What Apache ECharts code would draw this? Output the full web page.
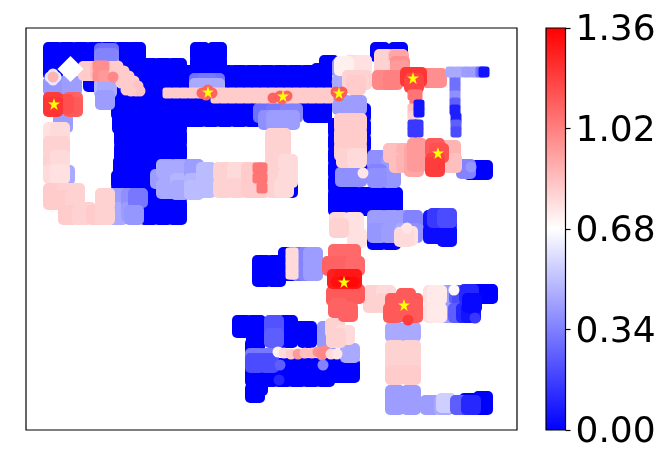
<!DOCTYPE html>
<html><head><meta charset="utf-8">
<style>html,body{margin:0;padding:0;background:#fff}#c{width:670px;height:465px}</style>
<script src="https://cdn.jsdelivr.net/npm/echarts@6/dist/echarts.min.js"></script>
</head><body><div id="c"></div>
<script>
const blueFloor = [
[27,24,0],[41,24,0],[55,24,0],[69,24,0],[83,24,0],[97,24,0],[110,24,0],[27,36,0],[41,36,0],[55,36,0],[69,36,0],[83,36,0],[97,36,0],[110,36,0],
[27,42,0],[67,54,0],[81,54,0],[81,62,0],
[95,40,0],[109,40,0],[123,40,0],[137,40,0],[151,40,0],[161,47,0],[95,54,0],[109,54,0],[123,54,0],[137,54,0],[151,54,0],[161,61,0],
[95,68,0],[109,68,0],[123,68,0],[137,68,0],[151,68,0],[161,75,0],[95,82,0],[109,82,0],[123,82,0],[137,82,0],[151,82,0],[161,89,0],
[96,96,0],[109,96,0],[123,96,0],[137,96,0],[151,96,0],[98,110,0],[109,110,0],[123,110,0],[137,110,0],[151,110,0],
[98,124,0],[109,124,0],[123,124,0],[137,124,0],[151,124,0],[97,138,0],[109,138,0],[123,138,0],[137,138,0],[151,138,0],
[95,152,0],[109,152,0],[123,152,0],[137,152,0],[151,152,0],[95,166,0],[109,166,0],[123,166,0],[137,166,0],[151,166,0],
[109,180,0],[123,180,0],[137,180,0],[151,180,0],[123,187,0],[137,187,0],[151,187,0],
[174,24,0],[191,24,0],[174,37,0],[191,37,0],
[171,47,0],[185,47,0],[199,47,0],[213,47,0],[227,47,0],[241,47,0],[255,47,0],[269,47,0],[283,47,0],[296,47,0],
[171,61,0],[185,61,0],[199,61,0],[213,61,0],[227,61,0],[241,61,0],[255,61,0],[269,61,0],[283,61,0],[296,61,0],
[171,75,0],[185,75,0],[199,75,0],[213,75,0],[227,75,0],[241,75,0],[255,75,0],[269,75,0],[283,75,0],[296,75,0],
[171,89,0],[185,89,0],[199,89,0],[213,89,0],[227,89,0],[241,89,0],[287,85,0],[296,85,0],
[303,37,0],[295,45,0],
[312,100,0],[312,114,0],[312,128,0],[312,142,0],[312,156,0],[312,170,0],[312,178,0],
[326,169,0],[340,169,0],[354,169,0],[367,169,0],[326,178,0],[340,178,0],[354,178,0],[367,178,0],
[335,85,0],[335,100,0],[335,115,0],[335,130,0],[335,145,0],
[354,24,0],[372,24,0],[262,160,0],
[407,192,0.05],[421,192,0.05],[407,206,0.03],[421,206,0.03],[421,209,0.03],[351,212,0],[365,212,0],
[447,142,0],[457,142,0],
[236,237,0],[236,249,0],[250,237,0],[250,249,0],[262,229,0],[262,243,0],
[216,297,0],[216,300,0],[230,297,0],[230,310,0],[229,320,0],[262,297,0],[262,310,0],[273,303,0],[281,303,0],[281,310,0],
[229,340,0],[243,340,0],[257,340,0],[271,340,0],[285,340,0],[299,340,0],[313,340,0],[324,340,0],
[229,349,0],[243,349,0],[257,349,0],[271,349,0],[285,349,0],[299,349,0],[313,345,0],[324,345,0],[229,365,0],[232,358,0],
[443,375,0],[457,373,0],[457,377,0],[455,266,0],[462,266,0]
];
const coolPatches = [
[27,58,0.4],[42,58,0.4],[46,58,0.42],[37,95,0.42],[39,147,0.45],
[78,25,0.28],[83,25,0.3],[78,30,0.35],[83,30,0.35],[78,60,0.48],[81,60,0.45],[79,72,0.42],
[92,170,0.42],[92,184,0.45],[92,187,0.45],[105,170,0.38],[105,184,0.42],[112,170,0.32],[108,187,0.4],
[173,55,0.3],[189,55,0.3],[181,55,0.32],[173,60,0.45],[189,60,0.45],[181,60,0.45],
[134,151,0.42],[140,141,0.45],[140,161,0.45],[154,141,0.45],[154,155,0.48],[154,162,0.45],[168,141,0.42],[168,155,0.48],[168,162,0.5],[180,144,0.5],[180,160,0.5],
[237,85,0.3],[250,85,0.32],[264,85,0.35],[267,85,0.35],[242,92,0.38],[250,92,0.42],[264,92,0.42],
[316,40,0.42],[316,55,0.45],[316,77,0.42],[331,77,0.42],[319,149,0.38],[331,149,0.38],
[351,132,0.38],[365,137,0.42],[351,146,0.35],[365,150,0.4],[351,150,0.38],
[351,192,0.42],[365,192,0.42],[379,192,0.42],[387,192,0.35],[351,205,0.4],[365,205,0.42],[379,205,0.45],[387,205,0.38],
[411,190,0.15],[421,190,0.2],
[275,229,0.3],[275,243,0.3],[282,229,0.35],[282,243,0.35],[287,229,0.42],[287,243,0.42],
[248,297,0.22],[248,310,0.25],[229,330,0.32],[243,330,0.32],[229,335,0.2],[243,335,0.2],
[301,303,0.4],[301,312,0.4],[324,325,0.45],
[369,304,0.45],[385,304,0.45],[369,367,0.42],[385,367,0.42],[369,377,0.42],[385,377,0.42],
[404,377,0.42],[418,377,0.45],[420,375,0.55],[434,377,0.25],[445,377,0.1],
[423,267,0.42],[426,275,0.42],[433,267,0.25],[436,275,0.2],[443,266,0.1],[423,285,0.42],[432,285,0.25],[440,285,0.1],[445,285,0.05],[446,275,0.02],[440,141,0.35]
];
const warmPatches = [
[27,104,0.76],[34,104,0.78],[27,118,0.8],[34,118,0.8],[27,132,0.8],[34,132,0.78],[27,146,0.78],[34,146,0.76],
[27,165,0.82],[41,165,0.8],[49,165,0.8],[27,172,0.82],[41,172,0.82],[49,172,0.8],
[42,187,0.82],[56,187,0.8],[60,184,0.8],[70,187,0.82],[79,187,0.8],[79,172,0.8],[79,170,0.8],
[62,43,0.82],[74,43,0.85],[84,43,0.82],
[197,144,0.8],[197,160,0.8],[211,144,0.78],[211,160,0.8],[225,144,0.82],[225,160,0.82],[234,144,0.82],[234,160,0.82],
[249,110,0.8],[255,110,0.8],[249,122,0.8],[255,122,0.8],[249,136,0.8],[262,136,0.78],[249,150,0.8],[262,150,0.78],[249,160,0.8],[258,160,0.78],
[328,37,0.78],[336,37,0.76],[318,38,0.72],[326,52,0.8],[336,52,0.8],[330,57,0.82],
[318,95,0.82],[331,95,0.82],[318,109,0.82],[331,109,0.82],[318,123,0.82],[331,123,0.82],[320,130,0.8],[331,130,0.78],
[313,194,0.78],[328,194,0.76],[331,210,0.76],[313,200,0.8],[382,208,0.76],[378,209,0.78],
[309,300,0.8],[319,307,0.78],[310,310,0.8],
[347,267,0.8],[347,275,0.8],[360,267,0.78],[360,275,0.8],[407,267,0.76],[411,267,0.74],[407,285,0.76],[411,285,0.74],
[369,322,0.8],[385,322,0.8],[369,336,0.8],[385,336,0.8],[369,347,0.82],[385,347,0.82],
[358,31,0.8],[372,31,0.85],[373,32,0.92],[358,42,0.8],[374,38,0.98],[374,42,0.95],
[367,125,0.85],[380,125,0.88],[373,135,0.85],[380,135,0.88],[388,125,0.92],[388,139,0.92],[391,120,0.95],[391,134,0.95],
[425,122,0.88],[426,135,0.85]
];
const hotPatches = [
[47,74,1.1],[47,79,1.12],[38,76,1.15],[27,74,1.2],[27,79,1.22],
[356,52,1.0],[367,52,1.02],[405,50,1.0],[411,50,0.98],[384,49,1.22],[391,49,1.22],[388,55,1.18],
[409,120,1.12],[413,125,1.15],[409,135,1.18],[409,139,1.2],
[312,226,1.08],[325,226,1.08],[306,238,1.1],[318,238,1.1],[329,238,1.08],
[310,268,1.12],[323,268,1.12],[329,266,1.12],[312,280,1.1],[322,284,1.1],
[311,251,1.28],[318,251,1.3],[326,251,1.3],
[367,285,1.12],[369,275,1.12],[380,270,1.12],[387,275,1.12],[378,284,1.12],[387,285,1.12]
];
const emptyDiamond = [[44.5,41,0.68]];
const stripPoints = [
[72,38,0.98],[78,38,0.98],[72,48,0.98],[78,48,0.95],
[142,65,0.82],[150,65,0.82],[158,65,0.82],[166,65,0.82],[174,65,0.82],
[190,65,0.82],[198,65,0.82],[206,65,0.82],[214,65,0.82],[222,65,0.82],[230,65,0.82],[238,65,0.82],[246,65,0.82],[254,65,0.82],[262,65,0.82],[270,65,0.82],[278,65,0.82],[286,65,0.82],[294,65,0.82],[302,65,0.82],
[190,70,0.82],[198,70,0.82],[206,70,0.82],[214,70,0.82],[222,70,0.82],[230,70,0.82],[238,70,0.82],[246,70,0.82],[254,70,0.82],[262,70,0.82],[270,70,0.82],[278,70,0.82],[286,70,0.82],[294,70,0.82],[302,70,0.82],
[387,67,1.05],[391,67,1.05],[389,73,1.05],[387,81,0.85],[387,88,0.82],[388,90,0.8],
[387,97,0.15],[392,97,0.15],[387,104,0.15],[392,104,0.15],[393,84,0.05],[393,77,0.05],
[429,45,0.38],[429,53,0.3],[429,60,0.3],[429,68,0.38],[429,75,0.25],[429,82,0.08],[430,90,0.08],[430,97,0.25],[430,104,0.2],
[425,44,0.45],[433,44,0.45],[441,44,0.42],[449,44,0.42],[455,44,0.3],[458,44,0.05],
[265,225,0.78],[265,232,0.78],[265,239,0.78],[265,246,0.78],[267,225,0.78],[267,232,0.78],[267,239,0.78],[267,246,0.78],
[232,140,1.05],[236,140,1.05],[236,150,1.05],[236,160,1.05],[232,150,1.05]
];
const finePoints = [
[24,49,0.62],[30,49,0.62],[27,46,0.62],[27,52,0.62],[27,49,0.88],
[92,38,0.82],[95,45,0.82],[98,43,0.82],[100,50,0.8],[103,48,0.82],[106,58,0.82],[108,53,0.82],[110,63,0.82],[112,58,0.84],[114,63,0.84],
[94,50,0.82],[95,55,0.82],[100,55,0.82],[100,62,0.82],[105,63,0.82],
[87,49,1.0],
[176,65,1.1],[182,62,1.1],[186,65,1.1],[180,67,1.1],[247,70,1.1],[254,68,1.1],[261,68,1.1],[256,71,1.1],[310,64,1.12],[316,64,1.12],[313,68,1.12],
[337,145,0.75],[445,139,0.4],
[252,324,0.72],[258,325,0.78],[265,326,0.82],[272,326,0.95],[279,325,0.85],[286,325,0.85],[292,324,0.98],[298,323,1.0],[296,327,1.0],[305,326,0.78],[311,326,0.75],
[297,337,0.35],[253,352,0.1],[254,337,0.25],[449,290,0.15],[428,262,0.7],[382,292,1.2],
[381,200,0.75],[316,254,1.36],[322,254,1.36],[310,254,1.32],[328,254,1.34]
];
const starPoints = [[28,76],[182,64],[257,68],[313,65],[387,50],[412,125],[318,254],[378,277]];
const colorbarTop = [1.36];
const tickLabels = ['0.00','0.34','0.68','1.02','1.36'];
const starGlyph = 'path://M50,0 L61.8,35.5 L98.5,35.5 L68.8,57.7 L79.4,94 L50,72 L20.6,94 L31.2,57.7 L1.5,35.5 L38.2,35.5 Z';

const chart = echarts.init(document.getElementById('c'));
const solid = {opacity:1};
const base = {type:'scatter',xAxisIndex:0,yAxisIndex:0,silent:true,progressive:0,itemStyle:solid};
chart.setOption({
  animation:false,
  grid:[
    {left:26,top:28,width:491,height:402,show:true,borderColor:'#000',borderWidth:1.2,backgroundColor:'transparent',z:10},
    {left:546,top:28,width:19.5,height:402,show:true,borderColor:'#000',borderWidth:1.2,backgroundColor:'transparent',z:10},
    {left:546,top:31,width:19.5,height:402,show:false}
  ],
  xAxis:[
    {gridIndex:0,type:'value',min:0,max:491,show:false},
    {gridIndex:1,type:'category',data:[''],show:false},
    {gridIndex:2,type:'category',data:[''],show:false}
  ],
  yAxis:[
    {gridIndex:0,type:'value',min:0,max:402,inverse:true,show:false},
    {gridIndex:1,type:'value',min:0,max:1.36,interval:0.34,position:'right',
     axisLine:{show:false},splitLine:{show:false},
     axisTick:{show:true,length:5,lineStyle:{color:'#000',width:1.2}},
     axisLabel:{show:false}},
    {gridIndex:2,type:'value',min:0,max:1.36,interval:0.34,position:'right',
     axisLine:{show:false},splitLine:{show:false},axisTick:{show:false},
     axisLabel:{show:true,margin:10,fontFamily:'DejaVu Sans',fontSize:36,color:'#000',
       formatter:v=>tickLabels[Math.round(v/0.34)]}}
  ],
  visualMap:{show:false,type:'continuous',seriesIndex:[0,1,2,3],dimension:2,min:0,max:1.36,
    inRange:{color:['#0000ff','#ffffff','#ff0000']}},
  series:[
    {...base,symbol:'roundRect',symbolSize:20,data:[].concat(blueFloor,coolPatches,warmPatches,hotPatches)},
    {...base,symbol:'diamond',symbolSize:26,z:3,data:emptyDiamond},
    {...base,symbol:'roundRect',symbolSize:11,z:4,data:stripPoints},
    {...base,symbol:'circle',symbolSize:11,z:5,data:finePoints},
    {...base,symbol:starGlyph,symbolSize:12,z:6,itemStyle:{color:'#ffff00',opacity:1},data:starPoints},
    {type:'bar',xAxisIndex:1,yAxisIndex:1,barWidth:'100%',silent:true,data:colorbarTop,
     itemStyle:{color:{type:'linear',x:0,y:1,x2:0,y2:0,colorStops:[
       {offset:0,color:'#0000ff'},{offset:0.5,color:'#ffffff'},{offset:1,color:'#ff0000'}]}}}
  ]
});
</script></body></html>
